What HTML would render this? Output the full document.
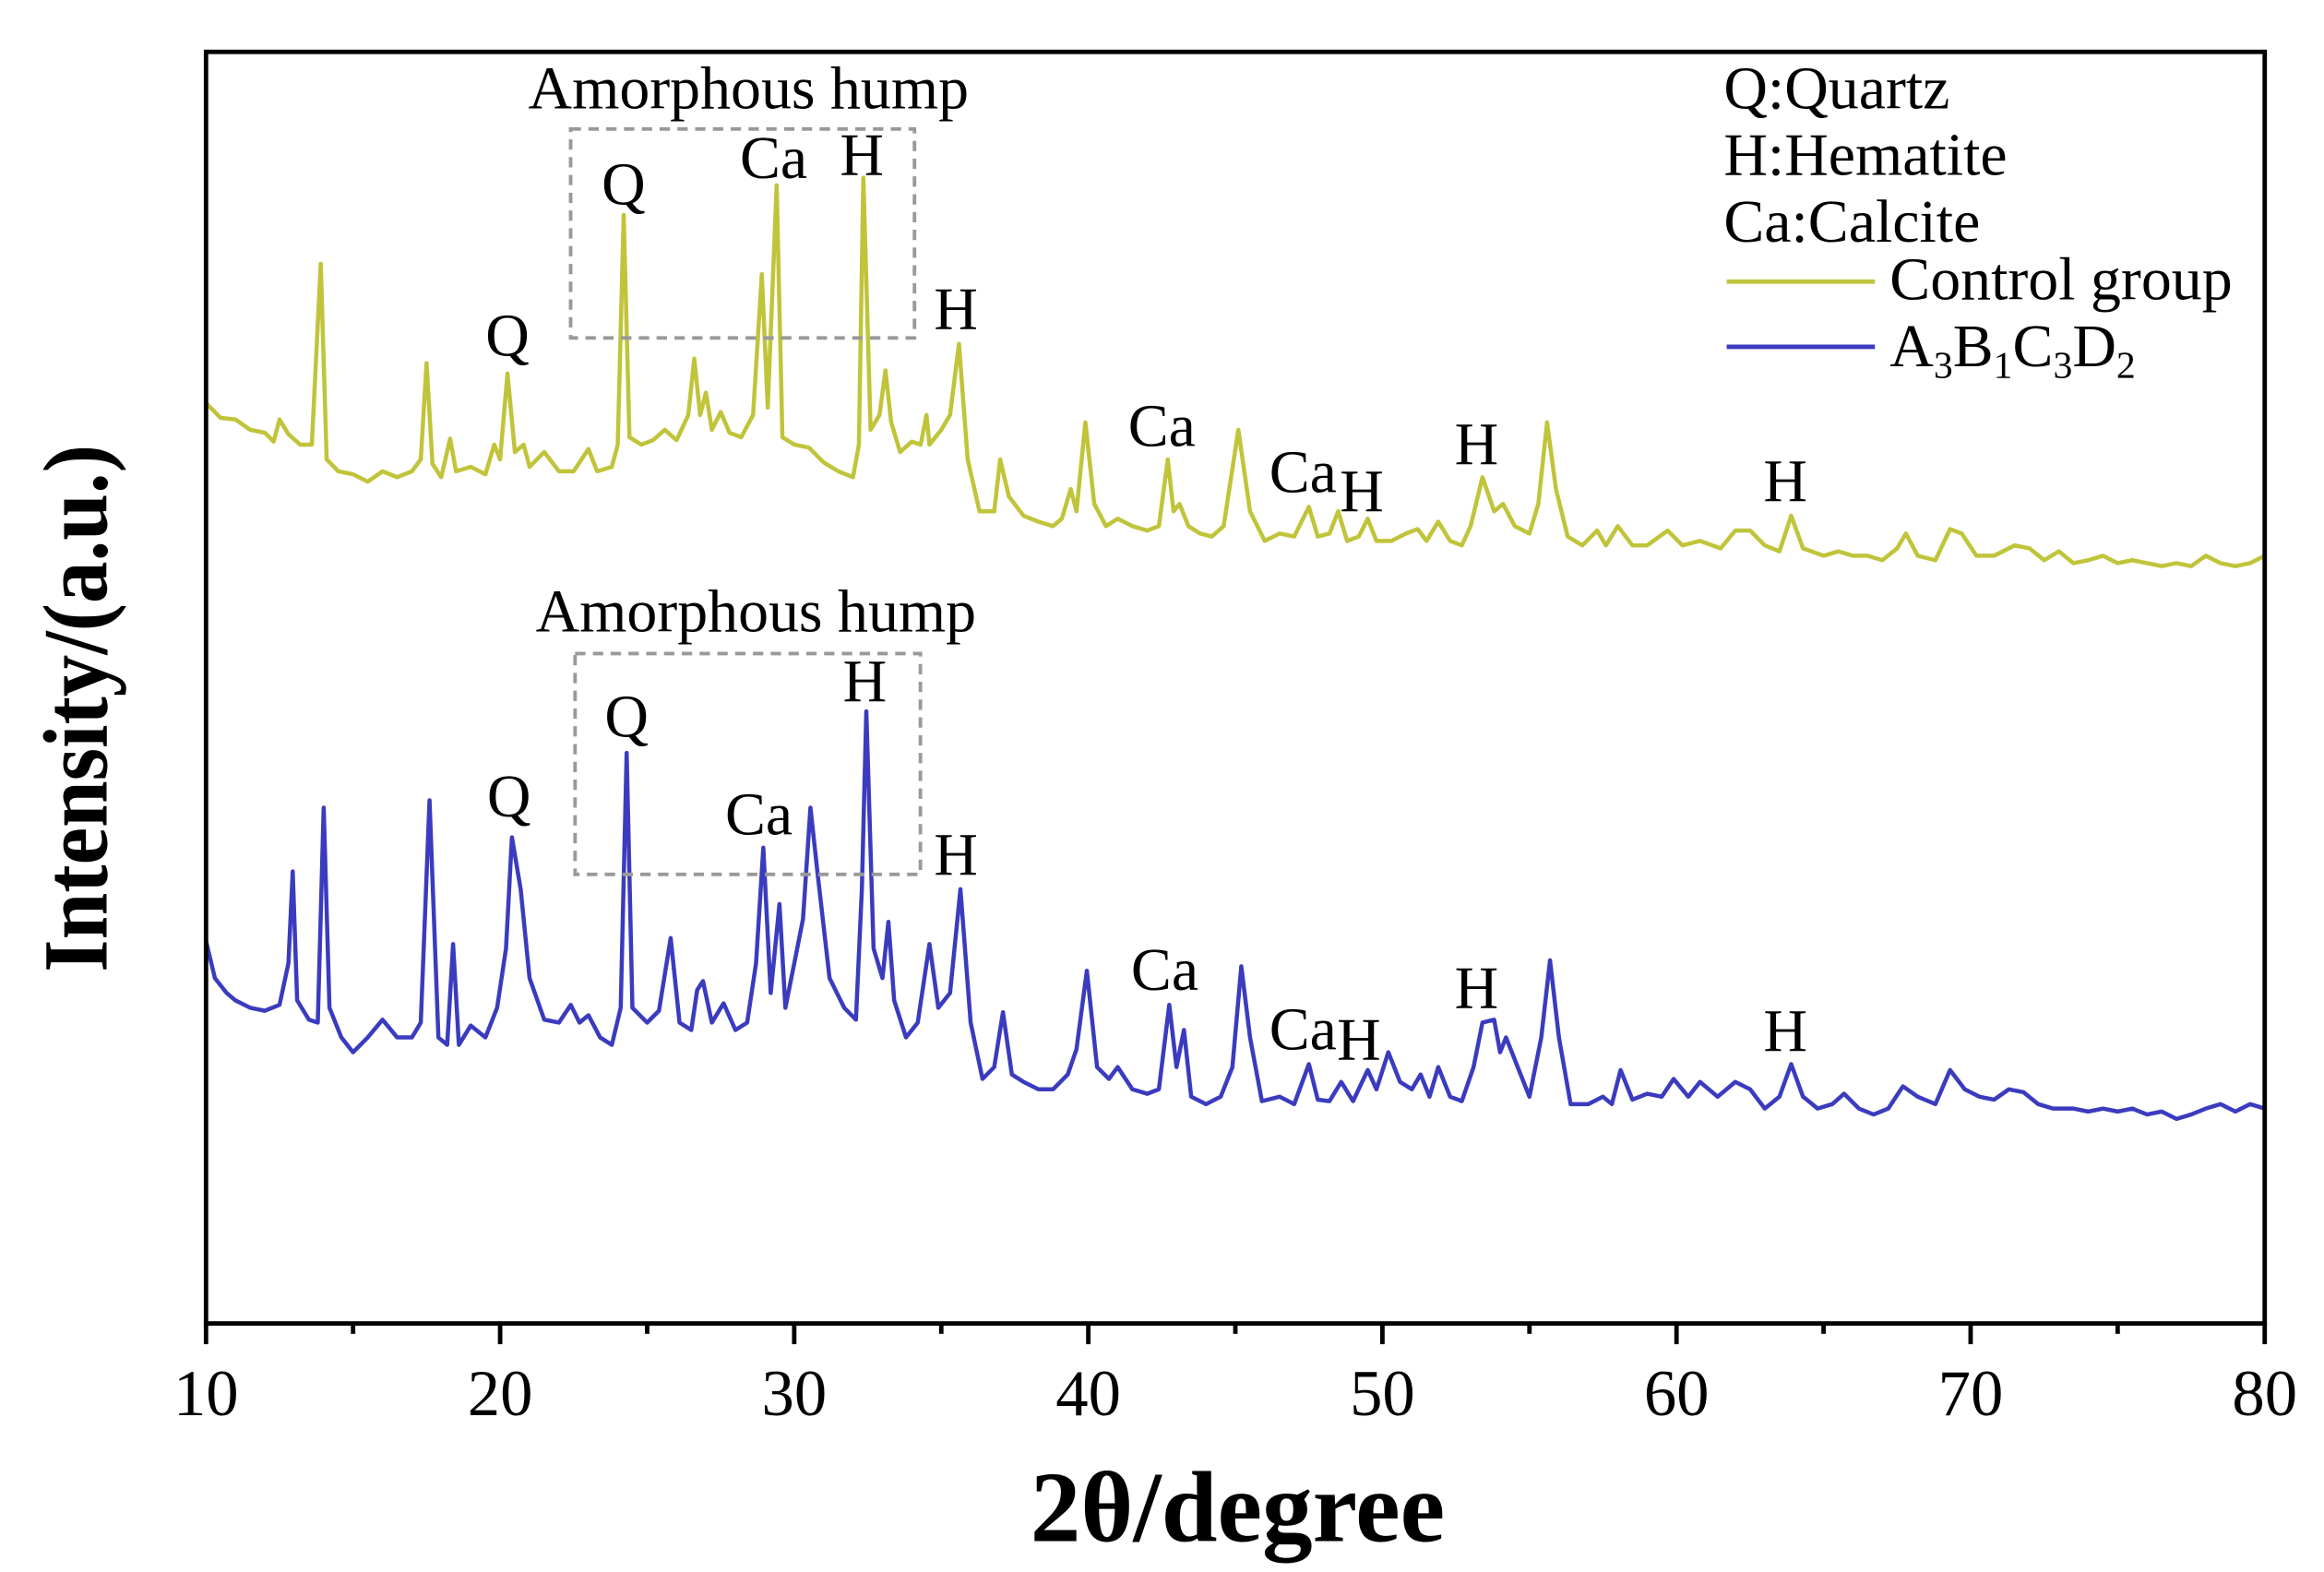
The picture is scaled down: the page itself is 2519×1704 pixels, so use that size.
<!DOCTYPE html>
<html><head><meta charset="utf-8"><style>
html,body{margin:0;padding:0;background:#fff;}
svg{display:block;font-family:"Liberation Serif",serif;}
</style></head><body>
<svg id="chart" width="2519" height="1704" viewBox="0 0 1568 1060.7" preserveAspectRatio="none" xmlns="http://www.w3.org/2000/svg">
<rect x="0" y="0" width="1568" height="1061" fill="#fff"/>
<g id="series"></g>
<g id="boxes"></g>
<g id="labels"></g>
<rect x="139" y="35" width="1389" height="858" fill="none" stroke="#000" stroke-width="3"/>
<g id="xaxis"></g>
<text x="835" y="1040" font-size="68" font-weight="bold" text-anchor="middle">2θ/degree</text>
<text transform="translate(72,478) rotate(-90)" font-size="62" font-weight="bold" text-anchor="middle" textLength="356" lengthAdjust="spacingAndGlyphs">Intensity/(a.u.)</text>
<g font-size="41">
<text x="1163" y="73">Q:Quartz</text>
<text x="1163" y="118">H:Hematite</text>
<text x="1163" y="163">Ca:Calcite</text>
<line x1="1165" y1="190" x2="1265" y2="190" stroke="#c0c43a" stroke-width="3"/>
<text x="1275" y="202">Control group</text>
<line x1="1165" y1="234" x2="1265" y2="234" stroke="#3b3bbf" stroke-width="3"/>
<text x="1275" y="247">A<tspan font-size="26" dy="8">3</tspan><tspan dy="-8">B</tspan><tspan font-size="26" dy="8">1</tspan><tspan dy="-8">C</tspan><tspan font-size="26" dy="8">3</tspan><tspan dy="-8">D</tspan><tspan font-size="26" dy="8">2</tspan></text>
</g>
</svg>
<script>
const ctrlX=[10,10.5,11,11.5,12,12.3,12.5,12.8,13.2,13.6,13.9,14.1,14.5,15,15.5,16,16.5,17,17.3,17.5,17.7,18,18.3,18.5,19,19.5,19.8,20,20.25,20.5,20.8,21,21.5,22,22.5,23,23.3,23.8,24.0,24.2,24.4,24.8,25.2,25.6,26,26.4,26.6,26.8,27,27.2,27.5,27.8,28.2,28.6,28.9,29.1,29.4,29.6,30,30.5,31,31.5,32,32.2,32.35,32.6,32.9,33.1,33.3,33.6,34,34.3,34.5,34.6,35,35.3,35.6,35.9,36.3,36.8,37.0,37.3,37.8,38.3,38.8,39.1,39.4,39.6,39.9,40.2,40.6,41,41.5,42,42.4,42.7,42.9,43.1,43.4,43.8,44.2,44.6,45.1,45.5,46,46.5,47,47.5,47.8,48.2,48.5,48.8,49.2,49.5,49.8,50.3,50.8,51.2,51.5,51.9,52.3,52.7,53.0,53.4,53.8,54.1,54.5,55,55.3,55.6,55.9,56.3,56.8,57.3,57.6,58.0,58.5,59,59.7,60.2,60.8,61.5,62,62.5,63,63.5,63.9,64.3,65,65.5,66,66.5,67,67.5,67.8,68.2,68.8,69.3,69.7,70.2,70.8,71.5,72,72.5,73,73.5,74,74.5,75,75.5,76,76.5,77,77.5,78,78.5,79,79.5,80];
const ctrlY=[628,618,617,610,608,602,617,607,600,600,722,590,582,580,575,582,578,582,590,655,587,578,604,582,585,580,600,590,648,595,600,585,595,582,582,597,582,585,600,755,605,600,603,610,603,620,658,620,635,610,622,608,605,620,715,625,775,605,600,598,588,582,578,600,780,610,620,650,615,595,602,600,620,600,610,620,668,590,555,555,590,565,552,548,545,550,570,555,615,560,545,550,545,542,545,590,555,560,545,540,538,545,610,555,535,540,538,558,538,540,555,535,538,550,535,535,540,543,535,548,535,532,545,578,555,560,545,540,560,615,570,538,532,542,532,545,532,532,542,532,535,530,542,542,532,528,552,530,525,528,525,525,522,530,540,525,522,543,540,525,525,532,530,522,528,520,522,525,520,522,520,518,520,518,525,520,518,520,525];
const mixX=[10,10.3,10.7,11,11.5,12,12.5,12.8,12.95,13.1,13.5,13.8,14.0,14.2,14.6,15,15.5,16,16.5,17,17.3,17.6,17.9,18.2,18.4,18.6,19,19.5,19.9,20.2,20.4,20.7,21,21.5,22,22.4,22.7,23,23.4,23.8,24.1,24.3,24.5,25,25.4,25.8,26.1,26.5,26.7,26.9,27.2,27.6,28,28.4,28.7,28.95,29.2,29.5,29.7,30,30.3,30.55,30.8,31.2,31.7,32.1,32.3,32.45,32.7,33,33.2,33.4,33.8,34.2,34.6,34.9,35.3,35.65,36,36.4,36.8,37.1,37.4,37.8,38.3,38.8,39.3,39.6,39.95,40.3,40.7,41,41.5,42,42.4,42.75,43,43.25,43.5,44,44.5,44.9,45.2,45.5,45.9,46.5,47,47.5,47.8,48.2,48.6,49,49.5,49.8,50.2,50.6,51,51.3,51.6,51.9,52.3,52.7,53.1,53.4,53.8,54.0,54.2,54.6,55,55.4,55.7,56,56.4,57,57.5,57.8,58.1,58.5,59,59.5,59.9,60.4,60.8,61.4,62,62.5,63,63.5,63.9,64.3,64.8,65.3,65.7,66.2,66.7,67.2,67.7,68.2,68.8,69.3,69.8,70.3,70.8,71.3,71.8,72.3,72.8,73.5,74,74.5,75,75.5,76,76.5,77,77.5,78,78.5,79,79.5,80];
const mixY=[265,240,230,225,220,218,222,250,312,225,212,210,355,220,200,190,200,212,200,200,210,360,200,195,263,195,208,200,220,260,335,300,240,212,210,222,210,215,200,195,220,392,220,210,218,267,210,205,232,238,210,223,205,210,250,328,230,290,220,250,280,355,310,240,220,212,300,420,260,240,278,225,200,210,263,220,230,300,210,172,180,217,175,170,165,165,175,192,245,180,172,180,165,162,165,222,180,205,160,155,160,180,248,200,157,160,155,182,158,157,170,157,178,165,190,170,165,175,160,180,160,157,180,210,212,190,200,180,160,200,252,200,155,155,160,155,178,158,162,160,172,160,170,160,170,165,152,160,182,160,152,155,162,152,148,152,167,160,155,178,165,160,158,165,163,155,152,152,150,152,150,152,148,150,145,148,152,155,150,155,152];
const xTicks=[10,20,30,40,50,60,70,80];
const xMinor=[15,25,35,45,55,65,75];
const annTop=[["Q",20.25,240],["Q",24.2,138],["Ca",29.3,120],["H",32.3,118],["H",35.5,222],["Ca",42.5,301],["Ca",47.3,332],["H",49.3,345],["H",53.2,313],["H",63.7,338]];
const annBot=[["Q",20.3,551],["Q",24.3,497],["Ca",28.8,563],["H",32.4,473],["H",35.5,590],["Ca",42.6,668],["Ca",47.3,708],["H",49.2,715],["H",53.2,680],["H",63.7,709]];
const NS="http://www.w3.org/2000/svg";
function xs(v){return 139+(v-10)*(1389/70);}
function ys(v){return 900-v;}
function mk(t,p){const e=document.createElementNS(NS,t);for(const k in p)e.setAttribute(k,p[k]);return e;}
const S=document.getElementById('series');
function drawLine(X,Y,col,name){
  let d='';X.forEach((x,i)=>{d+=(i?'L':'M')+xs(x).toFixed(1)+' '+ys(Y[i]).toFixed(1);});
  const p=mk('path',{d:d,fill:'none',stroke:col,'stroke-width':2.8,'stroke-linejoin':'round'});
  
  
  S.appendChild(p);
}
drawLine(ctrlX,ctrlY,'#c0c43a','control-group-line');
drawLine(mixX,mixY,'#3b3bbf','a3b1c3d2-line');
const XA=document.getElementById('xaxis');
xTicks.forEach(t=>{
  const l=mk('line',{x1:xs(t),y1:893,x2:xs(t),y2:907,stroke:'#000','stroke-width':3});
  
  
  XA.appendChild(l);
  const tx=mk('text',{x:xs(t),y:955,'font-size':44,'text-anchor':'middle'});
  tx.textContent=t;
  
  
  XA.appendChild(tx);
});
xMinor.forEach(t=>{
  const l=mk('line',{x1:xs(t),y1:893,x2:xs(t),y2:900,stroke:'#000','stroke-width':3});
  
  
  XA.appendChild(l);
});
const B=document.getElementById('boxes');
[[385,87,232,141,505,73],[388,441,233,149,510,426]].forEach(b=>{
  const r=mk('rect',{x:b[0],y:b[1],width:b[2],height:b[3],fill:'none',stroke:'#999','stroke-width':2.4,'stroke-dasharray':'7 5'});
  
  
  B.appendChild(r);
  const t=mk('text',{x:b[4],y:b[5],'font-size':41,'text-anchor':'middle'});
  t.textContent='Amorphous hump';
  
  
  B.appendChild(t);
});
const L=document.getElementById('labels');
annTop.concat(annBot).forEach(a=>{
  const t=mk('text',{x:xs(a[1]),y:a[2],'font-size':41,'text-anchor':'middle'});
  t.textContent=a[0];
  
  
  L.appendChild(t);
});
</script>
</body></html>
